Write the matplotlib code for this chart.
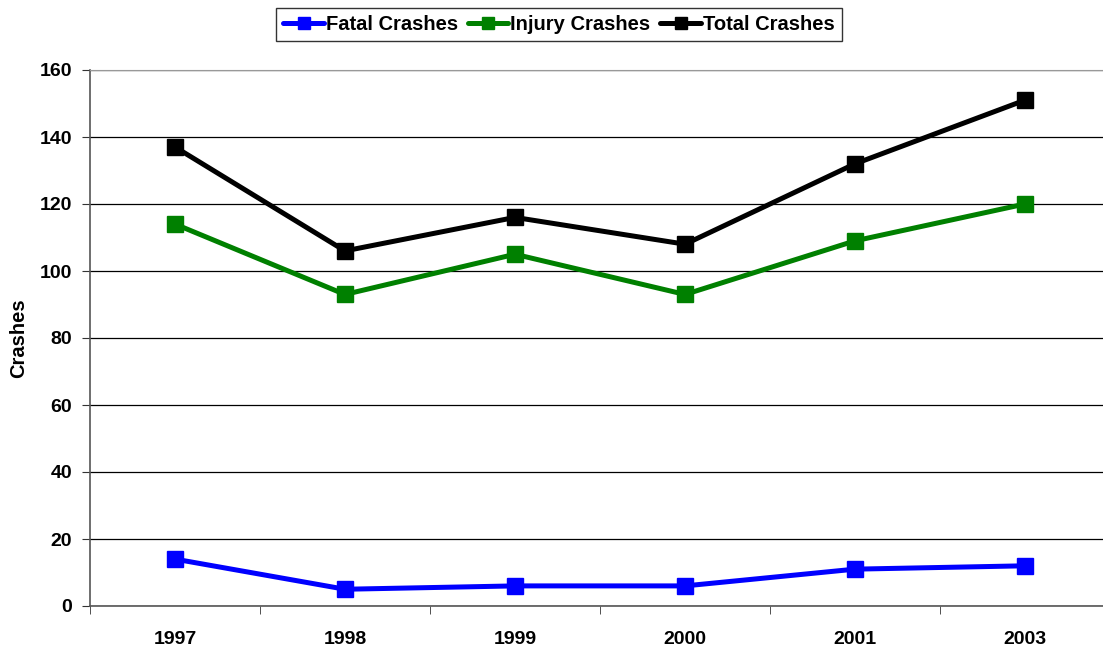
import matplotlib
matplotlib.use("Agg")
import matplotlib.pyplot as plt

# 数据
years = ["1997", "1998", "1999", "2000", "2001", "2003"]
fatal = [14, 5, 6, 6, 11, 12]
injury = [114, 93, 105, 93, 109, 120]
total = [137, 106, 116, 108, 132, 151]
y_ticks = [0, 20, 40, 60, 80, 100, 120, 140, 160]

plt.rcParams['font.family'] = ['Liberation Sans', 'DejaVu Sans']

fig = plt.figure(figsize=(11.03, 6.48), dpi=100)
ax = fig.add_axes([90 / 1103, 42 / 648, 1020 / 1103, 536 / 648])

x = list(range(len(years)))
series = [
    ("Fatal Crashes", fatal, "#0000ff"),
    ("Injury Crashes", injury, "#008000"),
    ("Total Crashes", total, "#000000"),
]
for label, vals, color in series:
    ax.plot(x, vals, color=color, lw=3.6, marker="s", markersize=11,
            markeredgecolor=color, label=label, solid_capstyle="round")

ax.set_xlim(-0.5, len(years) - 0.5)
ax.set_ylim(0, 160)
ax.set_yticks(y_ticks)
ax.set_yticklabels([str(v) for v in y_ticks], fontsize=14, fontweight="bold")
ax.yaxis.grid(True, color="black", lw=0.9)
ax.set_axisbelow(True)

# 类别标签居中，刻度在类别边界
ax.set_xticks(x)
ax.set_xticklabels(years, fontsize=14, fontweight="bold")
ax.tick_params(axis="x", which="major", length=0, pad=18)
ax.set_xticks([i + 0.5 for i in range(-1, len(years))], minor=True)
ax.tick_params(axis="x", which="minor", length=6, direction="out", color="#333333")
ax.tick_params(axis="y", length=6, direction="out", color="#333333", pad=7)

ax.spines["top"].set_color("#999999")
ax.spines["right"].set_visible(False)
for s in ("left", "bottom"):
    ax.spines[s].set_color("#555555")
    ax.spines[s].set_linewidth(1.2)

ax.set_ylabel("Crashes", fontsize=14.5, fontweight="bold", labelpad=8)

leg = fig.legend(loc="upper center", bbox_to_anchor=(559 / 1103, 1 - 8 / 648), ncol=3,
                 frameon=True, fancybox=False, prop={"size": 14.5, "weight": "bold"},
                 handlelength=2.0, handletextpad=0.1, columnspacing=0.5,
                 borderpad=0.35, borderaxespad=0)
leg.get_frame().set_edgecolor("black")
leg.get_frame().set_linewidth(1.0)
for h in leg.legend_handles:
    h.set_markersize(9)

fig.savefig("out.png", dpi=100)
